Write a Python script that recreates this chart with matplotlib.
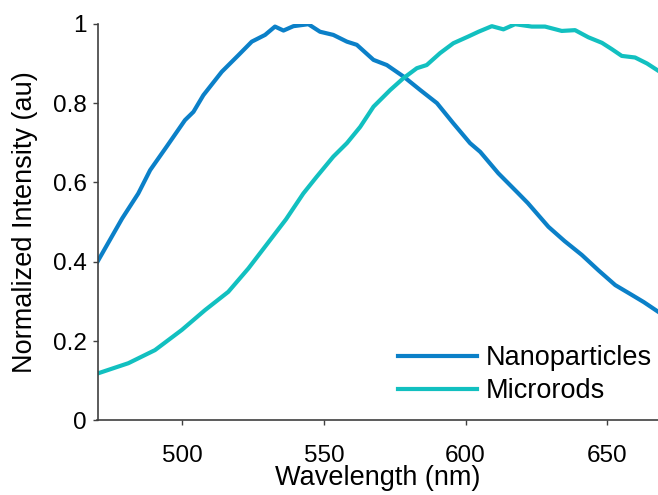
import matplotlib
matplotlib.use("Agg")
import matplotlib.pyplot as plt

plt.rcParams['font.family'] = ['Liberation Sans', 'DejaVu Sans']

# Nanoparticles emission
nano_wl = [470.0, 478.7, 484.4, 488.6, 494.4, 500.9, 503.9, 507.4, 513.9, 519.8,
           524.5, 529.2, 532.7, 535.7, 539.2, 544.5, 548.6, 553.3, 558.1, 561.6,
           567.5, 572.2, 578.1, 584.0, 589.9, 595.7, 601.6, 605.2, 611.6, 618.7,
           622.0, 629.3, 635.0, 641.1, 647.0, 652.9, 658.8, 663.0, 668.0]
nano_int = [0.400, 0.509, 0.572, 0.631, 0.690, 0.757, 0.778, 0.820, 0.879, 0.921,
            0.955, 0.972, 0.993, 0.983, 0.994, 0.999, 0.980, 0.972, 0.955, 0.947,
            0.909, 0.896, 0.867, 0.833, 0.800, 0.749, 0.699, 0.677, 0.623, 0.572,
            0.548, 0.488, 0.452, 0.417, 0.378, 0.341, 0.316, 0.298, 0.274]

# Microrods emission
rod_wl = [470.0, 480.9, 490.3, 499.8, 508.0, 516.2, 523.3, 529.2, 536.6, 542.7,
          547.4, 553.3, 558.1, 562.8, 567.5, 573.4, 578.1, 582.8, 586.3, 591.0,
          595.7, 601.0, 604.6, 609.3, 613.4, 617.5, 623.4, 628.1, 634.0, 638.7,
          643.4, 648.2, 651.7, 655.2, 659.9, 664.1, 668.0]
rod_int = [0.118, 0.144, 0.177, 0.228, 0.278, 0.324, 0.383, 0.438, 0.507, 0.572,
           0.614, 0.665, 0.699, 0.740, 0.791, 0.833, 0.863, 0.888, 0.896, 0.926,
           0.951, 0.968, 0.980, 0.994, 0.986, 0.999, 0.993, 0.993, 0.982, 0.984,
           0.966, 0.952, 0.936, 0.919, 0.915, 0.900, 0.882]

x_ticks = [500, 550, 600, 650]
y_ticks = [0, 0.2, 0.4, 0.6, 0.8, 1]
y_tick_labels = ['0', '0.2', '0.4', '0.6', '0.8', '1']

fig = plt.figure(figsize=(6.58, 4.95), dpi=100)
ax = fig.add_axes([97.5 / 658, 74.7 / 495, 560.5 / 658, 396.5 / 495])

ax.plot(nano_wl, nano_int, color='#0b80c8', lw=3, label='Nanoparticles')
ax.plot(rod_wl, rod_int, color='#12c0c0', lw=3, label='Microrods')

ax.set_xlim(470, 668)
ax.set_ylim(0, 1)
ax.set_xticks(x_ticks)
ax.set_yticks(y_ticks)
ax.set_yticklabels(y_tick_labels)

for side in ['top', 'right']:
    ax.spines[side].set_visible(False)
for side in ['left', 'bottom']:
    ax.spines[side].set_color('#404040')
    ax.spines[side].set_linewidth(1.2)
ax.tick_params(direction='out', length=3.5, width=1.0, color='#404040',
               labelsize=17.5)
ax.tick_params(axis='x', pad=14)
ax.tick_params(axis='y', pad=4)

ax.set_xlabel('Wavelength (nm)', fontsize=19.5, labelpad=-1)
ax.set_ylabel('Normalized Intensity (au)', fontsize=19.5, labelpad=11)

# legend placed in figure pixels: handle start ~ (398, 345 from top)
ax.legend(loc='upper left', bbox_to_anchor=(398 / 658, 1 - 345 / 495),
          bbox_transform=fig.transFigure, frameon=False, borderpad=0,
          borderaxespad=0, fontsize=19.5, handlelength=2.9,
          handletextpad=0.35, labelspacing=0.27)

fig.savefig('out.png', dpi=100)
